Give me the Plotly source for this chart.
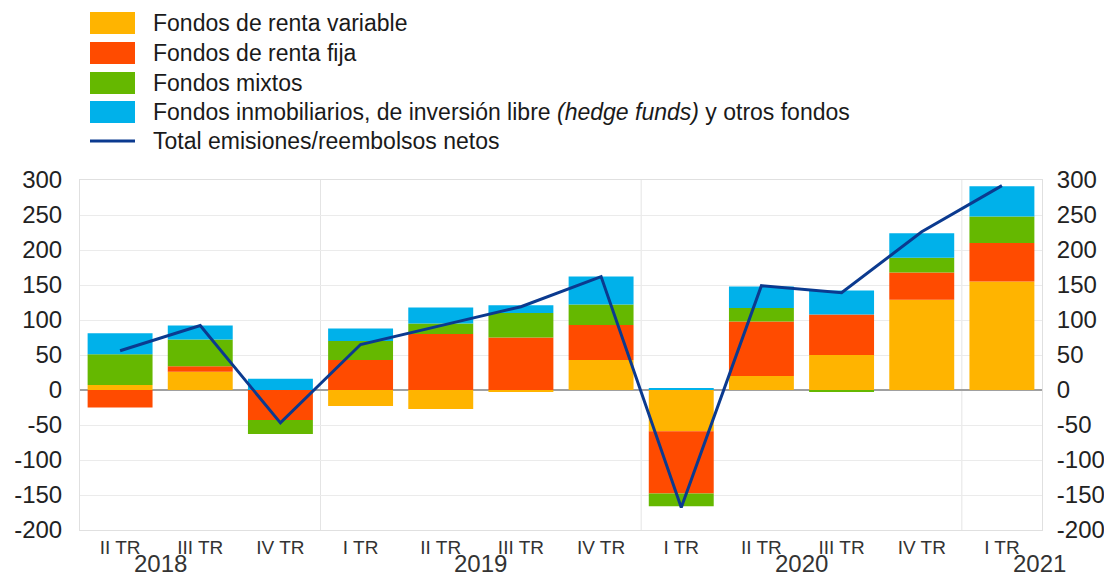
import plotly.graph_objects as go

quarters = ["II TR", "III TR", "IV TR", "I TR", "II TR", "III TR", "IV TR",
            "I TR", "II TR", "III TR", "IV TR", "I TR"]
years = ["2018", "2019", "2020", "2021"]
year_pos = [0.5, 4.5, 8.5, None]  # 2021 is placed against the right edge

renta_variable = [7, 26, 0, -23, -27, -2, 43, -59, 20, 50, 129, 155]
renta_fija = [-25, 8, -43, 43, 80, 75, 50, -89, 78, 58, 39, 55]
mixtos = [44, 38, -20, 27, 15, 35, 29, -18, 19, -3, 21, 38]
inmobiliarios = [30, 20, 16, 18, 23, 11, 40, 2, 31, 34, 35, 43]
total = [56, 92, -47, 65, 92, 119, 162, -168, 149, 139, 226, 292]
y_ticks = list(range(-200, 301, 50))

names = ["Fondos de renta variable", "Fondos de renta fija", "Fondos mixtos",
         "Fondos inmobiliarios, de inversión libre <i>(hedge funds)</i> y otros fondos"]
line_name = "Total emisiones/reembolsos netos"
colors = ["#FFB400", "#FF4B00", "#65B800", "#00B1EA"]
line_color = "#0B3A8F"
FONT = "Liberation Sans, Arial, sans-serif"

x = list(range(len(quarters)))
fig = go.Figure()
for vals, nm, c in zip([renta_variable, renta_fija, mixtos, inmobiliarios], names, colors):
    fig.add_trace(go.Bar(x=x, y=vals, name=nm, marker=dict(color=c, line=dict(width=0)),
                         showlegend=False))
fig.add_trace(go.Scatter(x=x, y=total, name=line_name, mode="lines",
                         line=dict(color=line_color, width=3), yaxis="y2", showlegend=False))

# page has an 8px body margin: work in screen pixels and shift by OFF
OFF = 8
W, H = 1104, 570
L, R, T, B = 80 - OFF, 1042 - OFF, 180 - OFF, 530 - OFF


def px(xs):
    return (xs - OFF - L) / (R - L)


def py(ys):
    return (B - (ys - OFF)) / (B - T)


shapes = []
annotations = []
# year separators
for sep in [2.5, 6.5, 10.5]:
    shapes.append(dict(type="line", xref="x", yref="paper", x0=sep, x1=sep, y0=0, y1=1,
                       line=dict(color="#E4E4E4", width=1), layer="below"))
# custom legend (screen-pixel positions)
rows = [23, 53, 83, 112, 141]
for i, (nm, c) in enumerate(zip(names, colors)):
    yc = rows[i]
    shapes.append(dict(type="rect", xref="paper", yref="paper", x0=px(90), x1=px(135),
                       y0=py(yc + 11), y1=py(yc - 11), fillcolor=c, line=dict(width=0)))
    annotations.append(dict(xref="paper", yref="paper", x=px(151), y=py(yc), text=nm,
                            showarrow=False, xanchor="left", yanchor="middle",
                            font=dict(family=FONT, size=23, color="#1a1a1a")))
shapes.append(dict(type="line", xref="paper", yref="paper", x0=px(90), x1=px(135),
                   y0=py(rows[4]), y1=py(rows[4]), line=dict(color=line_color, width=3)))
annotations.append(dict(xref="paper", yref="paper", x=px(151), y=py(rows[4]), text=line_name,
                        showarrow=False, xanchor="left", yanchor="middle",
                        font=dict(family=FONT, size=23, color="#1a1a1a")))
# year labels
for yr, pos in zip(years, year_pos):
    if pos is None:
        annotations.append(dict(xref="paper", yref="paper", x=px(1068), y=py(563), text=yr,
                                showarrow=False, xanchor="right", yanchor="middle",
                                font=dict(family=FONT, size=24, color="#333")))
    else:
        annotations.append(dict(xref="x", yref="paper", x=pos, y=py(563), text=yr,
                                showarrow=False, xanchor="center", yanchor="middle",
                                font=dict(family=FONT, size=24, color="#333")))

yax = dict(range=[-200, 300], tickvals=y_ticks, ticktext=[str(v) for v in y_ticks],
           tickfont=dict(family=FONT, size=24, color="#222"),
           showgrid=True, gridcolor="#EBEBEB", gridwidth=1,
           zeroline=True, zerolinecolor="#A0A0A0", zerolinewidth=1.5,
           showline=True, linecolor="#E0E0E0", linewidth=1, ticks="",
           ticklabelstandoff=12)

fig.update_layout(
    width=W, height=H,
    margin=dict(l=L, r=W - R, t=T, b=H - B, autoexpand=False),
    paper_bgcolor="white", plot_bgcolor="white",
    barmode="relative", bargap=0.19,
    showlegend=False,
    xaxis=dict(tickvals=x, ticktext=quarters, range=[-0.5, len(quarters) - 0.5],
               tickfont=dict(family=FONT, size=19, color="#333"),
               showgrid=False, showline=True, linecolor="#E0E0E0", mirror=True, ticks=""),
    yaxis=yax,
    yaxis2=dict(yax, overlaying="y", side="right", showgrid=False, zeroline=False,
                ticklabelstandoff=9),
    shapes=shapes, annotations=annotations,
)

fig.write_html("out.html")
